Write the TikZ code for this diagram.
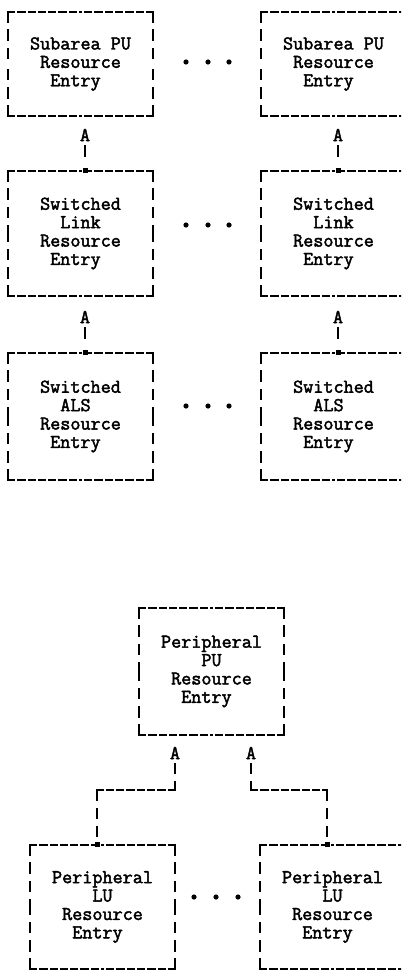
\documentclass[tikz,border=0pt]{standalone}
\usepackage{fontspec}
\newfontfamily\tw[FakeBold=2.2]{Latin Modern Mono}
\begin{document}
\begin{tikzpicture}[x=1pt,y=-1pt,
  every node/.style={font=\tw\fontsize{19.6}{18.4}\selectfont},
  box/.style={inner sep=0pt, align=left, minimum width=145pt},
  lbl/.style={inner sep=0pt},
  hedge/.style={line width=1.8pt, line cap=rect, dash pattern=on 6.5pt off 3.8pt},
  vedge/.style={line width=1.6pt, line cap=rect, dash pattern=on 10pt off 8.3pt},
  link/.style={line width=1.6pt, line cap=rect, dash pattern=on 11pt off 40pt},
  tie/.style={fill, inner sep=0pt, minimum size=5pt}
]
\useasboundingbox (0,0) rectangle (401,973);
\clip (0,0) rectangle (401,973);

% upper chains of resource entries
\node[box, minimum height=104pt] (sa1) at (80.5,64)
  {Subarea PU\\\hphantom{x}Resource\\\hphantom{xx}Entry};
\node[box, minimum height=104pt] (sa2) at (333.5,64)
  {Subarea PU\\\hphantom{x}Resource\\\hphantom{xx}Entry};
\node[box, minimum height=125pt] (sl1) at (80.5,233.5)
  {Switched\\\hphantom{xx}Link\\Resource\\\hphantom{x}Entry};
\node[box, minimum height=125pt] (sl2) at (333.5,233.5)
  {Switched\\\hphantom{xx}Link\\Resource\\\hphantom{x}Entry};
\node[box, minimum height=127pt] (al1) at (80.5,416.5)
  {Switched\\\hphantom{xx}ALS\\Resource\\\hphantom{x}Entry};
\node[box, minimum height=127pt] (al2) at (333.5,416.5)
  {Switched\\\hphantom{xx}ALS\\Resource\\\hphantom{x}Entry};

% peripheral PU with its LUs
\node[box, minimum height=127pt] (ppu) at (211.5,671.5)
  {Peripheral\\\hphantom{xxxx}PU\\\hphantom{x}Resource\\\hphantom{xx}Entry};
\node[box, minimum height=124pt] (lu1) at (102.5,907)
  {Peripheral\\\hphantom{xxxx}LU\\\hphantom{x}Resource\\\hphantom{xx}Entry};
\node[box, minimum height=124pt] (lu2) at (332.5,907)
  {Peripheral\\\hphantom{xxxx}LU\\\hphantom{x}Resource\\\hphantom{xx}Entry};

% typed-style dashed borders, each side drawn from its corners inward
\foreach \b in {sa1,sa2,sl1,sl2,al1,al2,ppu,lu1,lu2}{
  \draw[hedge] (\b.north west) -- (\b.north) (\b.north east) -- (\b.north)
               (\b.south west) -- (\b.south) (\b.south east) -- (\b.south);
  \draw[vedge] (\b.north west) -- (\b.west) (\b.south west) -- (\b.west)
               (\b.north east) -- (\b.east) (\b.south east) -- (\b.east);
}

% pointer labels
\node[lbl] (a1) at (85,135) {A};
\node[lbl] (a2) at (338,135) {A};
\node[lbl] (a3) at (85,317) {A};
\node[lbl] (a4) at (338,317) {A};
\node[lbl] (pa1) at (175,753) {A};
\node[lbl] (pa2) at (251,753) {A};

% pointers between the chained entries
\draw[link, shorten <=4pt] (a1.south) -- (a1.south |- sl1.north);
\node[tie] (t1) at (a1.south |- sl1.north) {};
\draw[link, shorten <=4pt] (a2.south) -- (a2.south |- sl2.north);
\node[tie] (t2) at (a2.south |- sl2.north) {};
\draw[link, shorten <=4pt] (a3.south) -- (a3.south |- al1.north);
\node[tie] (t3) at (a3.south |- al1.north) {};
\draw[link, shorten <=4pt] (a4.south) -- (a4.south |- al2.north);
\node[tie] (t4) at (a4.south |- al2.north) {};

% pointers from the peripheral PU to its LUs
\coordinate (kl) at (97,790);
\coordinate (kr) at (327,790);
\draw[vedge, shorten <=4pt] (pa1.south) -- (pa1.south |- kl);
\draw[hedge] (pa1.south |- kl) -- (kl);
\draw[vedge] (kl) -- (kl |- lu1.north);
\node[tie] (t5) at (kl |- lu1.north) {};
\draw[vedge, shorten <=4pt] (pa2.south) -- (pa2.south |- kr);
\draw[hedge] (pa2.south |- kr) -- (kr);
\draw[vedge] (kr) -- (kr |- lu2.north);
\node[tie] (t6) at (kr |- lu2.north) {};

% ellipses between repeated entries
\foreach \y in {62,225,406}
  \foreach \x in {186,208,229}
    \fill (\x,\y) circle (2.6pt);
\foreach \x in {194,216,238}
  \fill (\x,897) circle (2.6pt);
\end{tikzpicture}
\end{document}
